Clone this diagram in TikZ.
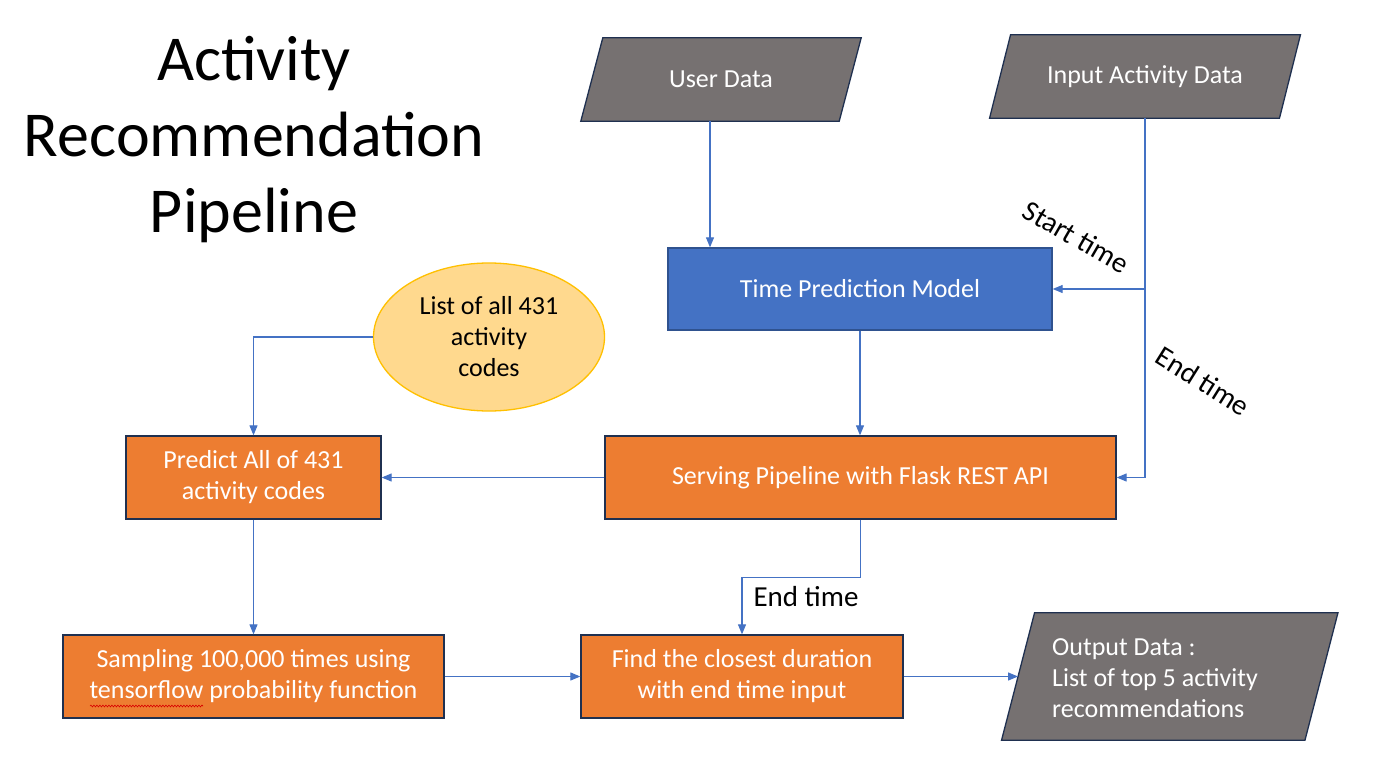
\documentclass[tikz,border=0pt]{standalone}
\usepackage{fontspec}
\setmainfont{Carlito}
\usetikzlibrary{arrows.meta,calc,shapes.geometric,backgrounds,decorations.pathmorphing}
\definecolor{dgray}{HTML}{767171}
\definecolor{accblue}{HTML}{4472C4}
\definecolor{accorange}{HTML}{ED7D31}
\definecolor{navy}{HTML}{1F3050}
\definecolor{bluebd}{HTML}{2F528F}
\definecolor{ellfill}{HTML}{FFD98E}
\definecolor{ellbd}{HTML}{FFC000}
\begin{document}
\begin{tikzpicture}[x=1pt,y=-1pt,
  txt/.style={font=\fontsize{26}{31}\selectfont, align=center},
  obox/.style={txt, text=white, draw=navy, fill=accorange, line width=1.3pt, inner sep=0pt},
  bbox/.style={txt, text=white, draw=bluebd, fill=accblue, line width=1.3pt, inner sep=0pt},
  paratxt/.style={txt, text=white, inner sep=0pt},
  parashape/.style={fill=dgray, draw=navy, line width=1.3pt},
  conn/.style={draw=accblue, line width=1.1pt, -{Triangle[length=10pt,width=8pt]}},
  lbl/.style={font=\fontsize{29}{34}\selectfont, text=black, inner sep=1pt}
]
\useasboundingbox (0,0) rectangle (1395,781);

% title
\node[font=\fontsize{64}{76}\selectfont, align=center] (title) at (254,140)
  {Activity\\Recommendation\\Pipeline};

% input / output parallelograms (text nodes)
\node[paratxt, minimum width=258pt, minimum height=83pt] (ud) at (721,79.5) {User Data};
\node[paratxt, minimum width=289.5pt, minimum height=83pt] (iad) at (1145,76.5) {Input Activity Data};
\node[paratxt, minimum width=303pt, minimum height=127pt] (out) at (1169.75,676.5) {};
\node[paratxt, anchor=west, align=left] (outtxt) at (1052,678)
  {Output Data :\\List of top 5 activity\\recommendations};

\begin{pgfonlayer}{background}
  \fill[white] (0,0) rectangle (1395,781);
  \draw[parashape] ($(ud.north west)+(11,0)$) -- ($(ud.north east)+(11,0)$)
     -- ($(ud.south east)+(-11,0)$) -- ($(ud.south west)+(-11,0)$) -- cycle;
  \draw[parashape] ($(iad.north west)+(10.5,0)$) -- ($(iad.north east)+(10.5,0)$)
     -- ($(iad.south east)+(-10.5,0)$) -- ($(iad.south west)+(-10.5,0)$) -- cycle;
  \draw[parashape] ($(out.north west)+(16.5,0)$) -- ($(out.north east)+(16.5,0)$)
     -- ($(out.south east)+(-16.5,0)$) -- ($(out.south west)+(-16.5,0)$) -- cycle;
\end{pgfonlayer}

% process boxes
\node[bbox, minimum width=384pt, minimum height=82pt] (tpm) at (860,289) {Time Prediction Model};
\node[obox, minimum width=511pt, minimum height=83pt] (serv) at (860.5,477.5) {Serving Pipeline with Flask REST API};
\node[obox, minimum width=255pt, minimum height=83pt] (pred) at (253.5,477.5) {Predict All of 431\\activity codes};
\node[obox, minimum width=381pt, minimum height=83pt] (samp) at (253.5,676.5) {Sampling 100,000 times using\\tensorflow probability function};
\node[obox, minimum width=322pt, minimum height=83pt] (find) at (742,676.5) {Find the closest duration\\with end time input};
\node[ellipse, txt, text=black, fill=ellfill, draw=ellbd, line width=1.3pt, inner sep=0pt,
      minimum width=231pt, minimum height=148pt] (ell) at (489,337) {List of all 431\\activity\\codes};

% spell-check underline under "tensorflow"
\draw[red!85!black, line width=0.6pt, decorate, decoration={snake, amplitude=0.9pt, segment length=3pt}]
  (90,706) -- (203,706);

% connectors
\draw[conn] ($(ud.south)+(-11,0)$) coordinate (udo) -- (udo |- tpm.north);
\draw[conn] (iad.south) -- (iad.south |- tpm.east) -- (tpm.east);
\draw[conn] (iad.south) -- (iad.south |- serv.east) -- (serv.east);
\draw[conn] (tpm.south) -- (tpm.south |- serv.north);
\draw[conn] (serv.west) -- (pred.east);
\draw[conn] (ell.west) -- (ell.west -| pred.north) -- (pred.north);
\draw[conn] (pred.south) -- (samp.north);
\draw[conn] (serv.south) -- ++(0,58) -| (find.north);
\draw[conn] (samp.east) -- (samp.east -| find.west);
\draw[conn] (find.east) -- (find.east -| out.west);

% labels
\node[lbl, rotate=-30] (lstart) at (1076,237) {Start time};
\node[lbl, rotate=-32] (lend1) at (1203,381) {End time};
\node[lbl] (lend2) at (806,597) {End time};
\end{tikzpicture}
\end{document}
